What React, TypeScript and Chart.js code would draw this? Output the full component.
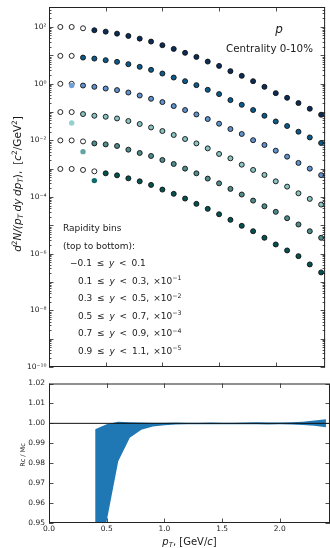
import React, { useEffect, useRef } from 'react';
import { Chart, registerables } from 'chart.js';

Chart.register(...registerables);

// ---------------- data ----------------
const PT = [0.1, 0.2, 0.3, 0.4, 0.5, 0.6, 0.7, 0.8, 0.9, 1.0, 1.1, 1.2, 1.3, 1.4, 1.5, 1.6, 1.7, 1.8, 1.9, 2.0, 2.1, 2.2, 2.3, 2.4];

// unscaled yields per rapidity bin
const YIELD_BIN0 = [100, 100, 90, 76.6, 68.4, 58.1, 48.2, 38.7, 30.4, 22.7, 16.8, 12.2, 8.79, 6.0, 4.23, 2.76, 1.88, 1.22, 0.77, 0.462, 0.316, 0.206, 0.13, 0.08];
const YIELD_BIN1 = [95.3, 95.3, 83.0, 76.5, 67.2, 58.6, 48.6, 39.1, 30.6, 22.7, 16.4, 12.2, 8.85, 6.05, 4.27, 2.62, 1.79, 1.17, 0.735, 0.462, 0.319, 0.201, 0.1265, 0.0804];
const YIELD_BIN2 = [98.4, 98.4, 85.7, 77.1, 67.1, 59.0, 48.6, 38.1, 29.2, 22.3, 16.1, 11.7, 8.17, 5.62, 3.85, 2.5, 1.67, 1.01, 0.684, 0.431, 0.265, 0.159, 0.1, 0.059];
const YIELD_BIN3 = [99.1, 99.1, 84.3, 73.5, 67.8, 59.0, 47.9, 37.5, 28.4, 21.2, 15.4, 11.1, 7.78, 5.19, 3.3, 2.31, 1.38, 0.9, 0.6, 0.357, 0.232, 0.135, 0.0857, 0.054];
const YIELD_BIN4 = [99.1, 99.1, 91.4, 77.8, 71.8, 63.0, 46.7, 35.7, 28.0, 20.2, 14.6, 10.0, 6.84, 4.45, 3.03, 1.93, 1.22, 0.746, 0.471, 0.299, 0.178, 0.107, 0.0619, 0.0363];
const YIELD_BIN5 = [97.6, 97.6, 90.0, 80.3, 68.4, 58.1, 45.5, 35.7, 26.7, 18.2, 12.9, 8.79, 5.71, 3.81, 2.46, 1.56, 0.96, 0.619, 0.363, 0.211, 0.13, 0.0817, 0.0417, 0.0218];
const YIELDS = [YIELD_BIN0, YIELD_BIN1, YIELD_BIN2, YIELD_BIN3, YIELD_BIN4, YIELD_BIN5];

const SCALE_EXP = [0, -1, -2, -3, -4, -5];
const OPEN_COUNT = [3, 2, 2, 2, 3, 4];
const EXTRA_PT = [null, null, 0.2, 0.2, 0.3, 0.4];
const EXTRA_YIELD = [null, null, 85.7, 40.6, 39.7, 37.8];

const BIN_LO = [-0.1, 0.1, 0.3, 0.5, 0.7, 0.9];
const BIN_HI = [0.1, 0.3, 0.5, 0.7, 0.9, 1.1];

const FILL_COLORS = ['#0a2c57', '#0b5a8c', '#5f92cc', '#88c3c2', '#4f8b8b', '#03524f'];
const EXTRA_COLORS = ['#0a2c57', '#0b5a8c', '#6d9fd8', '#93d0d0', '#62a3a3', '#0f6a6a'];

const X_TICKS = [0, 0.5, 1.0, 1.5, 2.0];
const Y_LOG_LABEL_EXP = [2, 0, -2, -4, -6, -8, -10];

const RATIO_PT = [0.4, 0.5, 0.6, 0.7, 0.8, 0.9, 1.0, 1.1, 1.2, 1.3, 1.4, 1.5, 1.6, 1.7, 1.8, 1.9, 2.0, 2.1, 2.2, 2.3, 2.4];
const RATIO_HIGH = [0.997, 0.9995, 1.0008, 1.0006, 1.0004, 1.0003, 1.0003, 1.0004, 1.0003, 1.0003, 1.0004, 1.0003, 1.0003, 1.0004, 1.0005, 1.0004, 1.0004, 1.0005, 1.0008, 1.0014, 1.002];
const RATIO_LOW = [0.93, 0.951, 0.981, 0.9928, 0.9968, 0.9984, 0.9991, 0.9994, 0.9995, 0.9996, 0.9996, 0.9996, 0.9995, 0.9996, 0.9995, 0.9994, 0.9995, 0.9994, 0.9992, 0.9988, 0.998];
const RATIO_TICKS = [0.95, 0.96, 0.97, 0.98, 0.99, 1.0, 1.01, 1.02];

// ---------------- helpers ----------------
const FAMILY = '"DejaVu Sans", sans-serif';
const SUP_MAP: Record<string, string> = { '0': '⁰', '1': '¹', '2': '²', '3': '³', '4': '⁴', '5': '⁵', '6': '⁶', '7': '⁷', '8': '⁸', '9': '⁹', '-': '⁻' };
const toSup = (n: number) => String(n).split('').map((c) => SUP_MAP[c] || c).join('');

type Seg = { t: string; it?: boolean; sup?: boolean; sub?: boolean; gap?: number };

function segFont(seg: Seg, size: number) {
  const s = seg.sup || seg.sub ? size * 0.7 : size;
  return `${seg.it ? 'italic ' : ''}${s}px ${FAMILY}`;
}

function segWidth(ctx: CanvasRenderingContext2D, s: Seg, size: number) {
  if (s.gap != null) return s.gap;
  ctx.font = segFont(s, size);
  return ctx.measureText(s.t).width;
}

function drawRich(ctx: CanvasRenderingContext2D, segs: Seg[], x: number, y: number, size: number, align: 'left' | 'center') {
  let w = 0;
  for (const s of segs) w += segWidth(ctx, s, size);
  let cx = align === 'center' ? x - w / 2 : x;
  ctx.textAlign = 'left';
  ctx.textBaseline = 'alphabetic';
  for (const s of segs) {
    if (s.gap == null) {
      ctx.font = segFont(s, size);
      const dy = s.sup ? -size * 0.4 : s.sub ? size * 0.22 : 0;
      ctx.fillText(s.t, cx, y + dy);
    }
    cx += segWidth(ctx, s, size);
  }
}

const fmtBin = (v: number) => (v < 0 ? '−' : '') + Math.abs(v).toFixed(1);

// ---------------- top chart ----------------
function buildTopDatasets() {
  const ds: any[] = [];
  YIELDS.forEach((_, r) => {
    if (EXTRA_PT[r] == null) return;
    ds.push({
      data: [{ x: EXTRA_PT[r], y: (EXTRA_YIELD[r] as number) * Math.pow(10, SCALE_EXP[r]) }],
      pointRadius: 2.7,
      pointBackgroundColor: EXTRA_COLORS[r],
      pointBorderWidth: 0,
      pointBorderColor: EXTRA_COLORS[r],
      showLine: false,
    });
  });
  YIELDS.forEach((vals, r) => {
    const f = Math.pow(10, SCALE_EXP[r]);
    ds.push({
      data: PT.slice(OPEN_COUNT[r]).map((x, k) => ({ x, y: vals[k + OPEN_COUNT[r]] * f })),
      pointRadius: 2.5,
      pointBackgroundColor: FILL_COLORS[r],
      pointBorderColor: '#111111',
      pointBorderWidth: 0.9,
      showLine: false,
    });
  });
  YIELDS.forEach((vals, r) => {
    const f = Math.pow(10, SCALE_EXP[r]);
    ds.push({
      data: PT.slice(0, OPEN_COUNT[r]).map((x, k) => ({ x, y: vals[k] * f })),
      pointRadius: 2.5,
      pointBackgroundColor: '#ffffff',
      pointBorderColor: '#111111',
      pointBorderWidth: 0.9,
      showLine: false,
    });
  });
  return ds;
}

const topDecor = {
  id: 'topDecor',
  afterDraw(chart: any) {
    const { ctx, chartArea: a, scales } = chart;
    const xs = scales.x;
    const ys = scales.y;
    ctx.save();
    ctx.strokeStyle = '#222';
    ctx.lineWidth = 0.8;
    ctx.beginPath();
    for (let e = -10; e <= 2; e++) {
      for (let m = 1; m <= 9; m++) {
        const v = m * Math.pow(10, e);
        if (v > ys.max) break;
        const py = Math.round(ys.getPixelForValue(v)) + 0.5;
        const len = m === 1 ? 4.5 : 2.5;
        ctx.moveTo(a.left, py);
        ctx.lineTo(a.left + len, py);
        ctx.moveTo(a.right, py);
        ctx.lineTo(a.right - len, py);
      }
    }
    for (const t of X_TICKS) {
      const px = Math.round(xs.getPixelForValue(t)) + 0.5;
      ctx.moveTo(px, a.top);
      ctx.lineTo(px, a.top + 4.5);
      ctx.moveTo(px, a.bottom);
      ctx.lineTo(px, a.bottom - 4.5);
    }
    ctx.stroke();
    ctx.lineWidth = 1;
    ctx.strokeRect(a.left + 0.5, a.top + 0.5, a.right - a.left - 1, a.bottom - a.top - 1);

    ctx.fillStyle = '#1a1a1a';
    drawRich(ctx, [{ t: 'p', it: true }], 279, 32.5, 12, 'center');
    drawRich(ctx, [{ t: 'Centrality 0-10%' }], 226, 51.5, 10.3, 'left');

    // legend text
    const ls = 9;
    const rel = 4.8;
    const lineY = (i: number) => 228 + i * 17.5 + ls * 0.35;
    drawRich(ctx, [{ t: 'Rapidity bins' }], 63, lineY(0), ls, 'left');
    drawRich(ctx, [{ t: '(top to bottom):' }], 63, lineY(1), ls, 'left');
    BIN_LO.forEach((lo, i) => {
      const segs: Seg[] = [
        { t: fmtBin(lo) },
        { t: '', gap: rel },
        { t: '≤' },
        { t: '', gap: rel },
        { t: 'y', it: true },
        { t: '', gap: rel },
        { t: '<' },
        { t: '', gap: rel },
        { t: fmtBin(BIN_HI[i]) },
      ];
      if (SCALE_EXP[i] !== 0) {
        segs.push({ t: ',' });
        segs.push({ t: '', gap: 4.2 });
        segs.push({ t: '×10' });
        segs.push({ t: '−' + Math.abs(SCALE_EXP[i]), sup: true });
      }
      drawRich(ctx, segs, i === 0 ? 70 : 78, lineY(i + 2), ls, 'left');
    });

    // y-axis title
    ctx.translate(17, 184);
    ctx.rotate(-Math.PI / 2);
    drawRich(
      ctx,
      [
        { t: 'd', it: true },
        { t: '2', sup: true },
        { t: 'N/(', it: true },
        { t: 'p', it: true },
        { t: 'T', it: true, sub: true },
        { t: '', gap: 2.5 },
        { t: 'dy', it: true },
        { t: '', gap: 2.5 },
        { t: 'dp', it: true },
        { t: 'T', it: true, sub: true },
        { t: '),' },
        { t: '', gap: 6 },
        { t: '[' },
        { t: 'c', it: true },
        { t: '2', sup: true },
        { t: '/GeV' },
        { t: '2', sup: true },
        { t: ']' },
      ],
      0,
      3.7,
      10.5,
      'center'
    );
    ctx.restore();
  },
};

function topConfig(): any {
  return {
    type: 'scatter',
    data: { datasets: buildTopDatasets() },
    options: {
      animation: false,
      responsive: false,
      devicePixelRatio: 1,
      layout: { padding: { left: 0, right: 0, top: 6, bottom: 8 } },
      plugins: { legend: { display: false }, tooltip: { enabled: false } },
      scales: {
        x: { type: 'linear', display: false, min: 0, max: 2.435 },
        y: {
          type: 'logarithmic',
          position: 'left',
          min: 1e-10,
          max: 506,
          grid: { display: false, drawTicks: false },
          border: { display: false },
          afterFit: (s: any) => {
            s.width = 49;
          },
          afterBuildTicks: (s: any) => {
            s.ticks = Y_LOG_LABEL_EXP.map((e) => ({ value: Math.pow(10, e) }));
          },
          ticks: {
            autoSkip: false,
            padding: 2.5,
            color: '#222',
            font: { family: 'DejaVu Sans', size: 7.5 },
            callback: (v: number) => '10' + toSup(Math.round(Math.log10(v))),
          },
        },
      },
    },
    plugins: [topDecor],
  };
}

// ---------------- bottom chart ----------------
const botDecor = {
  id: 'botDecor',
  afterDraw(chart: any) {
    const { ctx, chartArea: a, scales } = chart;
    const xs = scales.x;
    const ys = scales.y;
    ctx.save();
    ctx.strokeStyle = '#222';
    ctx.lineWidth = 0.8;
    ctx.beginPath();
    for (const t of RATIO_TICKS) {
      const py = Math.round(ys.getPixelForValue(t)) + 0.5;
      ctx.moveTo(a.left, py);
      ctx.lineTo(a.left + 4.5, py);
      ctx.moveTo(a.right, py);
      ctx.lineTo(a.right - 4.5, py);
    }
    for (const t of X_TICKS) {
      const px = Math.round(xs.getPixelForValue(t)) + 0.5;
      ctx.moveTo(px, a.top);
      ctx.lineTo(px, a.top + 4.5);
      ctx.moveTo(px, a.bottom);
      ctx.lineTo(px, a.bottom - 4.5);
    }
    ctx.stroke();
    ctx.lineWidth = 1;
    ctx.strokeRect(a.left + 0.5, a.top + 0.5, a.right - a.left - 1, a.bottom - a.top - 1);

    ctx.fillStyle = '#1a1a1a';
    drawRich(
      ctx,
      [{ t: 'p', it: true }, { t: 'T', it: true, sub: true }, { t: ', [GeV/' }, { t: 'c', it: true }, { t: ']' }],
      (a.left + a.right) / 2,
      170,
      10,
      'center'
    );
    ctx.translate(23, 80);
    ctx.rotate(-Math.PI / 2);
    drawRich(ctx, [{ t: 'Rc / Mc' }], 0, 2.3, 6.5, 'center');
    ctx.restore();
  },
};

function botConfig(): any {
  return {
    type: 'line',
    data: {
      datasets: [
        {
          data: [{ x: 0, y: 1 }, { x: 2.6, y: 1 }],
          borderColor: '#111111',
          borderWidth: 1,
          pointRadius: 0,
          fill: false,
        },
        {
          data: RATIO_PT.map((x, i) => ({ x, y: RATIO_HIGH[i] })),
          borderWidth: 0,
          borderColor: 'rgba(0,0,0,0)',
          backgroundColor: '#1f77b4',
          pointRadius: 0,
          fill: '+1',
        },
        {
          data: RATIO_PT.map((x, i) => ({ x, y: RATIO_LOW[i] })),
          borderWidth: 0,
          borderColor: 'rgba(0,0,0,0)',
          pointRadius: 0,
          fill: false,
        },
      ],
    },
    options: {
      animation: false,
      responsive: false,
      devicePixelRatio: 1,
      layout: { padding: { left: 0, right: 0, top: 5, bottom: 0 } },
      plugins: { legend: { display: false }, tooltip: { enabled: false } },
      scales: {
        x: {
          type: 'linear',
          min: 0,
          max: 2.435,
          grid: { display: false, drawTicks: false },
          border: { display: false },
          afterFit: (s: any) => {
            s.height = 25;
          },
          afterBuildTicks: (s: any) => {
            s.ticks = X_TICKS.map((v) => ({ value: v }));
          },
          ticks: {
            autoSkip: false,
            maxRotation: 0,
            padding: 2,
            color: '#222',
            font: { family: 'DejaVu Sans', size: 7.5 },
            callback: (v: number) => v.toFixed(1),
          },
        },
        y: {
          type: 'linear',
          min: 0.95,
          max: 1.02,
          grid: { display: false, drawTicks: false },
          border: { display: false },
          afterFit: (s: any) => {
            s.width = 49;
          },
          afterBuildTicks: (s: any) => {
            s.ticks = RATIO_TICKS.map((v) => ({ value: v }));
          },
          ticks: {
            autoSkip: false,
            padding: 4,
            color: '#222',
            font: { family: 'DejaVu Sans', size: 7.5 },
            callback: (v: number) => v.toFixed(2),
          },
        },
      },
    },
    plugins: [botDecor],
  };
}

export default function App() {
  const topRef = useRef<HTMLCanvasElement>(null);
  const botRef = useRef<HTMLCanvasElement>(null);
  useEffect(() => {
    const top = new Chart(topRef.current as HTMLCanvasElement, topConfig());
    const bot = new Chart(botRef.current as HTMLCanvasElement, botConfig());
    return () => {
      top.destroy();
      bot.destroy();
    };
  }, []);
  return (
    <div style={{ position: 'fixed', left: 0, top: 0, width: 330, height: 548, background: '#ffffff' }}>
      <canvas ref={topRef} width={330} height={375} style={{ position: 'absolute', left: 0, top: 0, width: 330, height: 375 }} />
      <canvas ref={botRef} width={330} height={173} style={{ position: 'absolute', left: 0, top: 375, width: 330, height: 173 }} />
    </div>
  );
}
